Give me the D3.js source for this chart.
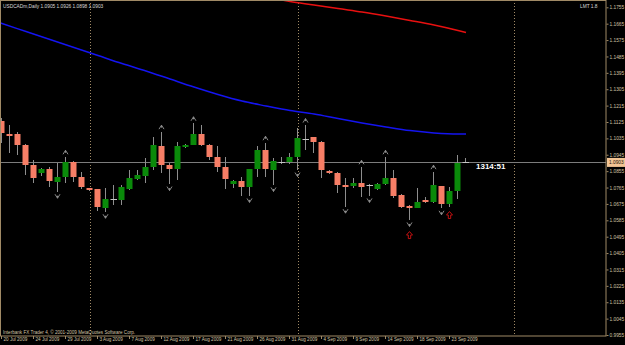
<!DOCTYPE html>
<html>
<head>
<meta charset="utf-8">
<script src="https://cdn.jsdelivr.net/npm/d3@7"></script>
<style>
body { margin: 0; background: #000; }
</style>
</head>
<body>
<div id="chart"></div>
<script>
// daily bars, bar 0 = 20 Jul 2009 (sunday bars included)
var open = [1.1130,1.1059,1.1059,1.0999,1.0889,1.0843,1.0867,1.0797,1.0821,1.0905,
    1.0825,1.0761,1.0755,1.0654,1.0700,1.0698,1.0759,1.0814,1.0830,1.0876,
    1.0993,1.0889,1.0868,1.0986,1.1000,1.1059,1.1000,1.0934,1.0876,1.0784,
    1.0801,1.0770,1.0868,1.0971,1.0861,1.0907,1.0907,1.0934,1.1033,1.1041,
    1.1017,1.0856,1.0843,1.0779,1.0775,1.0792,1.0779,1.0757,1.0784,1.0816,
    1.0724,1.0664,1.0654,1.0697,1.0684,1.0773,1.0675,1.0748,1.0905];
var high = [1.1147,1.1108,1.1070,1.1004,1.0916,1.0872,1.0879,1.0900,1.0934,1.0911,
    1.0852,1.0765,1.0757,1.0762,1.0779,1.0779,1.0861,1.0861,1.0926,1.1044,
    1.1072,1.0900,1.1017,1.1004,1.1118,1.1108,1.1004,1.0993,1.0934,1.0806,
    1.0825,1.0869,1.0993,1.1011,1.0929,1.0934,1.0953,1.1090,1.1108,1.1043,
    1.1022,1.0859,1.0852,1.0816,1.0816,1.0879,1.0784,1.0790,1.0934,1.0861,
    1.0727,1.0669,1.0761,1.0711,1.0852,1.0775,1.0770,1.0944,1.0926];
var low = [1.1010,1.0956,1.0944,1.0834,1.0790,1.0828,1.0770,1.0742,1.0792,1.0797,
    1.0755,1.0746,1.0638,1.0632,1.0669,1.0669,1.0751,1.0806,1.0788,1.0861,
    1.0843,1.0784,1.0806,1.0982,1.0998,1.0993,1.0916,1.0852,1.0755,1.0762,
    1.0719,1.0719,1.0825,1.0825,1.0779,1.0893,1.0893,1.0861,1.0971,1.0956,
    1.0819,1.0840,1.0737,1.0660,1.0764,1.0715,1.0719,1.0751,1.0779,1.0706,
    1.0651,1.0587,1.0651,1.0678,1.0682,1.0651,1.0660,1.0700,1.0898];
var close = [1.1065,1.1049,1.0999,1.0889,1.0819,1.0868,1.0801,1.0821,1.0907,1.0825,
    1.0766,1.0750,1.0656,1.0700,1.0700,1.0766,1.0816,1.0832,1.0879,1.0997,
    1.0889,1.0868,1.0993,1.1000,1.1059,1.0997,1.0934,1.0876,1.0812,1.0801,
    1.0770,1.0868,1.0971,1.0865,1.0911,1.0907,1.0934,1.1035,1.1033,1.1017,
    1.0861,1.0843,1.0779,1.0769,1.0792,1.0770,1.0779,1.0784,1.0816,1.0720,
    1.0660,1.0651,1.0687,1.0688,1.0777,1.0673,1.0748,1.0901,1.0903];

// moving averages (read every 3 bars)
var maBlueBars = [-1,0,3,6,9,12,15,18,21,24,27,30,33,36,39,42,45,48,51,54,57,58];
var maBlue = [1.1681,1.1666,1.1622,1.1578,1.1534,1.1490,1.1446,1.1405,1.1361,1.1317,1.1276,
    1.1240,1.1213,1.1188,1.1169,1.1144,1.1120,1.1098,1.1078,1.1065,1.1059,1.1059];
var maRedBars = [33,36,39,42,45,48,51,54,57,58];
var maRed = [1.1812,1.1787,1.1768,1.1748,1.1729,1.1707,1.1683,1.1658,1.1628,1.1617];

// fractals and signal arrows
var fractalUp = [8,20,24,33,38,45,48,54];
var fractalDown = [7,13,21,31,34,37,43,46,51,55];
var signalBars = [51,56];
var signalPrice = [1.0504,1.0614];

// month separators (bar index)
var separators = [11,37,64];

// axis labels
var dateBars = [0,4,8,12,16,20,24,28,32,36,40,44,48,52,56];
var dateLabels = ["20 Jul 2009","24 Jul 2009","29 Jul 2009","3 Aug 2009","7 Aug 2009",
    "12 Aug 2009","17 Aug 2009","21 Aug 2009","26 Aug 2009","31 Aug 2009","4 Sep 2009",
    "9 Sep 2009","14 Sep 2009","18 Sep 2009","23 Sep 2009"];
var priceTicks = [1.1755,1.1665,1.1575,1.1485,1.1395,1.1305,1.1215,1.1125,1.1035,1.0945,
    1.0855,1.0765,1.0675,1.0585,1.0495,1.0405,1.0315,1.0225,1.0135,1.0045,0.9955];
var lastPrice = 1.0903;
var headerText = "USDCADm,Daily  1.0905 1.0926 1.0898 1.0903";
var footerText = "Interbank FX Trader 4, \u00a9 2001-2009 MetaQuotes Software Corp.";
var timerText = "1314:51";

var width = 625, height = 345;
var plotW = 606, plotH = 336;
var axisColor = "#a08a66", textColor = "#d2c2a4";
var font = "'Liberation Sans', Arial, sans-serif";

var svg = d3.select("#chart").append("svg")
    .attr("width", width)
    .attr("height", height)
    .style("display", "block")
    .style("background", "#000");

svg.append("clipPath").attr("id", "plot")
    .append("rect").attr("x", 0).attr("y", 0).attr("width", plotW).attr("height", plotH);

// scales
var x = d3.scaleLinear().domain([0, 1]).range([2, 10]);
var y = d3.scaleLinear().domain([0.9955, 1.1755]).range([335, 7.3]);

var plot = svg.append("g").attr("clip-path", "url(#plot)");

// separators
plot.selectAll(".sep").data(separators).enter().append("line")
    .attr("class", "sep")
    .attr("x1", function(d){ return Math.round(x(d)) + 0.5; })
    .attr("x2", function(d){ return Math.round(x(d)) + 0.5; })
    .attr("y1", 0).attr("y2", plotH)
    .attr("stroke", axisColor)
    .attr("stroke-dasharray", "1,2");

// current price line
plot.append("line")
    .attr("x1", 0).attr("x2", plotW)
    .attr("y1", Math.round(y(lastPrice)) + 0.5)
    .attr("y2", Math.round(y(lastPrice)) + 0.5)
    .attr("stroke", "#7c7c7c");

// moving averages
var maLine = d3.line()
    .x(function(d){ return x(d[0]); })
    .y(function(d){ return y(d[1]); })
    .curve(d3.curveMonotoneX);

plot.append("path")
    .datum(maBlueBars.map(function(b, k){ return [b, maBlue[k]]; }))
    .attr("d", maLine)
    .attr("fill", "none")
    .attr("stroke", "#1414f0")
    .attr("stroke-width", 1.5);

plot.append("path")
    .datum(maRedBars.map(function(b, k){ return [b, maRed[k]]; }))
    .attr("d", maLine)
    .attr("fill", "none")
    .attr("stroke", "#e81010")
    .attr("stroke-width", 1.5);

// candles
var bars = open.map(function(o, i){
    return {i: i, o: o, h: high[i], l: low[i], c: close[i]};
});

var candle = plot.selectAll(".candle").data(bars).enter().append("g")
    .attr("class", "candle");

candle.append("line")
    .attr("x1", function(d){ return Math.round(x(d.i)) - 0.5; })
    .attr("x2", function(d){ return Math.round(x(d.i)) - 0.5; })
    .attr("y1", function(d){ return Math.round(y(d.h)); })
    .attr("y2", function(d){ return Math.round(y(d.l)); })
    .attr("stroke", "#8e8e8e");

candle.each(function(d){
    var g = d3.select(this);
    var cx = Math.round(x(d.i));
    var top = y(Math.max(d.o, d.c)), bot = y(Math.min(d.o, d.c));
    if (bot - top < 1) {
        g.append("line")
            .attr("x1", cx - 3.5).attr("x2", cx + 3)
            .attr("y1", Math.round(top) + 0.5).attr("y2", Math.round(top) + 0.5)
            .attr("stroke", "#c4c4c4");
    } else {
        g.append("rect")
            .attr("x", cx - 3.5)
            .attr("width", 6)
            .attr("y", Math.round(top))
            .attr("height", Math.max(1, Math.round(bot) - Math.round(top)))
            .attr("fill", d.c > d.o ? "#0a8a0a" : "#f77e66");
    }
});

// fractal arrows
var arrowUp = "M-2.5,2L0,-2L2.5,2M0,-2V0.5";
var arrowDown = "M-2.5,-2L0,2L2.5,-2M0,2V-0.5";

plot.selectAll(".fup").data(fractalUp).enter().append("path")
    .attr("class", "fup")
    .attr("transform", function(d){ return "translate(" + (Math.round(x(d)) - 0.5) + "," + (y(high[d]) - 4.5) + ")"; })
    .attr("d", arrowUp)
    .attr("fill", "none")
    .attr("stroke", "#8a8a8a");

plot.selectAll(".fdn").data(fractalDown).enter().append("path")
    .attr("class", "fdn")
    .attr("transform", function(d){ return "translate(" + (Math.round(x(d)) - 0.5) + "," + (y(low[d]) + 4.5) + ")"; })
    .attr("d", arrowDown)
    .attr("fill", "none")
    .attr("stroke", "#8a8a8a");

// buy signal arrows
plot.selectAll(".sig").data(signalBars).enter().append("path")
    .attr("class", "sig")
    .attr("transform", function(d, k){ return "translate(" + (Math.round(x(d)) - 0.5) + "," + y(signalPrice[k]) + ")"; })
    .attr("d", "M0,-3.5L3,0L1.2,0L1.2,3.5L-1.2,3.5L-1.2,0L-3,0Z")
    .attr("fill", "none")
    .attr("stroke", "#c01010");

// frame
svg.append("rect")
    .attr("x", 0.5).attr("y", 0.5)
    .attr("width", plotW - 0.5).attr("height", plotH - 0.5)
    .attr("fill", "none")
    .attr("stroke", axisColor);

// price axis
var yAxis = d3.axisRight(y)
    .tickValues(priceTicks)
    .tickFormat(d3.format(".4f"))
    .tickSize(2)
    .tickPadding(1);

var yg = svg.append("g")
    .attr("transform", "translate(" + (plotW + 0.5) + ",0)")
    .call(yAxis);
yg.select(".domain").remove();
yg.selectAll("line").attr("stroke", axisColor);
yg.selectAll("text")
    .attr("fill", textColor)
    .style("font-family", font)
    .style("font-size", "4.8px");

// time axis
var xAxis = d3.axisBottom(x)
    .tickValues(dateBars)
    .tickFormat(function(d, k){ return dateLabels[k]; })
    .tickSize(3)
    .tickPadding(1);

var xg = svg.append("g")
    .attr("transform", "translate(-1," + plotH + ")")
    .call(xAxis);
xg.select(".domain").remove();
xg.selectAll("line").attr("stroke", axisColor);
xg.selectAll("text")
    .attr("fill", textColor)
    .attr("text-anchor", "start")
    .attr("dx", 2)
    .attr("dy", "0.2em")
    .style("font-family", font)
    .style("font-size", "4.6px");

// last price tag
var ly = y(lastPrice);
svg.append("rect")
    .attr("x", plotW + 1).attr("y", ly - 4.5)
    .attr("width", 18).attr("height", 9)
    .attr("fill", "#f2c494");
svg.append("text")
    .attr("x", plotW + 3).attr("y", ly + 1.7)
    .attr("fill", "#1a1208")
    .style("font-family", font)
    .style("font-size", "4.8px")
    .text(d3.format(".4f")(lastPrice));

// texts
svg.append("text")
    .attr("x", 3).attr("y", 8)
    .attr("fill", "#d8d8d8")
    .style("font-family", font)
    .style("font-size", "4.8px")
    .text(headerText);

svg.append("text")
    .attr("x", 580).attr("y", 8)
    .attr("fill", "#d8d8d8")
    .style("font-family", font)
    .style("font-size", "4.8px")
    .text("LMT 1.8");

svg.append("text")
    .attr("x", 3).attr("y", 334)
    .attr("fill", textColor)
    .style("font-family", font)
    .style("font-size", "4.6px")
    .text(footerText);

svg.append("text")
    .attr("x", 476).attr("y", ly + 6.5)
    .attr("fill", "#ffffff")
    .style("font-family", font)
    .style("font-size", "8px")
    .style("font-weight", "bold")
    .text(timerText);
</script>
</body>
</html>
